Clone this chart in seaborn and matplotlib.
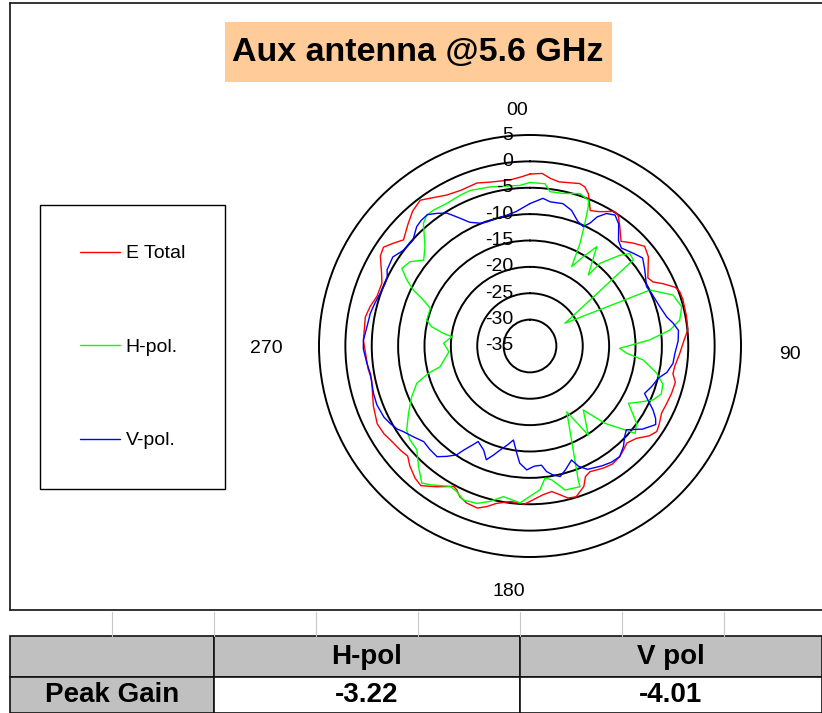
import numpy as np
import pandas as pd
import matplotlib
matplotlib.use("Agg")
import matplotlib.pyplot as plt
import matplotlib.transforms as mtransforms
from matplotlib.lines import Line2D
from matplotlib.patches import Rectangle
import seaborn as sns

# E Total (red), angle in degrees clockwise from top, gain in dBi
red_deg = [0, 4, 7, 10, 17, 19, 21, 24, 27.5, 32, 34, 37, 41, 45, 49, 53, 60, 62.5, 65, 68,
           70, 73, 79, 84, 88, 93, 98, 101, 104, 108.5, 113, 117, 121, 124, 127, 131, 135, 138,
           141, 145, 149, 154.5, 157, 159, 163, 166, 168.5, 171.5, 175, 179, 182, 187, 192, 195,
           198, 202, 205, 207, 208.5, 213.5, 218, 221, 225, 228, 231, 236, 239, 243, 249, 258,
           262, 272, 280, 284, 288, 293, 296, 301, 304, 307, 310, 315, 319, 323, 326, 331, 336,
           342, 346, 353, 357, 360]
red_db = [-2.4, -2.2, -3.0, -3.4, -2.8, -3.1, -4.1, -6.9, -6.3, -4.9, -5.1, -6.7, -8.7, -7.4,
          -6.2, -6.9, -9.2, -8.7, -7.1, -5.3, -4.8, -4.7, -4.8, -4.9, -5.8, -6.6, -7.3, -7.4,
          -6.6, -6.7, -6.9, -7.0, -6.4, -6.0, -6.7, -8.3, -9.0, -8.5, -8.0, -7.7, -8.0, -8.6,
          -8.1, -6.5, -5.1, -5.3, -6.2, -7.1, -6.7, -5.8, -5.0, -5.3, -4.5, -3.5, -2.7, -2.9,
          -3.5, -4.4, -4.7, -3.0, -1.4, -1.8, -2.8, -3.8, -3.5, -3.1, -2.7, -2.5, -3.2, -4.3,
          -4.0, -3.4, -3.3, -3.8, -4.5, -4.5, -3.7, -1.9, -1.5, -2.6, -3.7, -2.3, -1.1, -0.4,
          -1.2, -2.3, -2.7, -2.5, -3.0, -3.3, -2.9, -2.4]

# H-pol. (green)
green_deg = [0, 5.3, 7.4, 12.3, 18.1, 21.8, 22.7, 24.1, 26, 27.7, 30.8, 33.9, 39.4, 40.2, 44.7,
             47.2, 50.2, 57, 65, 70.4, 75.5, 80.2, 83.5, 87.1, 91.5, 94.3, 97, 102, 106, 110,
             113.6, 117, 120.2, 126, 129.7, 131.5, 135.9, 140.2, 146.8, 150.8, 160.2, 160.4,
             166.3, 170.8, 173.5, 176, 183.6, 190, 194.4, 198.7, 203.4, 206.7, 209.6, 215.7,
             218.3, 222.8, 227.5, 231.9, 235.7, 241.1, 246.8, 251.8, 255, 257, 266, 271.8,
             276.8, 278.3, 281.1, 284.1, 290.7, 293.3, 295.6, 298.2, 301.2, 305.1, 308.9,
             313.4, 319, 321.7, 324.6, 329.7, 335.1, 338.9, 345.9, 356.4, 360]
green_db = [-4.0, -4.1, -5.5, -5.4, -4.6, -5.2, -6.4, -9.5, -13.4, -18.0, -15.3, -12.3, -17.6,
            -14.5, -10.8, -9.2, -9.5, -27.1, -9.9, -6.2, -5.3, -6.2, -8.3, -12.3, -18.0, -16.6,
            -13.4, -10.5, -8.8, -8.5, -9.5, -11.6, -13.4, -10.0, -9.1, -11.0, -14.6, -19.2,
            -14.8, -20.7, -8.0, -6.7, -6.9, -9.3, -9.8, -7.7, -5.2, -6.0, -4.6, -3.5, -3.2,
            -4.1, -4.4, -2.6, -1.9, -3.9, -5.9, -6.1, -6.7, -8.7, -10.6, -12.4, -15.1, -17.5,
            -19.6, -18.6, -20.1, -18.4, -16.0, -14.8, -14.8, -13.0, -10.5, -8.5, -6.6, -7.2,
            -9.1, -7.6, -4.2, -3.4, -3.4, -3.7, -3.5, -3.4, -3.9, -4.5, -4.0]

# V-pol. (blue)
blue_deg = [0, 5, 8, 13, 17, 21, 24, 26, 27.5, 30, 33, 36, 40, 43, 48, 52, 56.5, 63, 66.5, 73,
            78, 81, 84, 88, 93, 97, 101, 104, 108.5, 112.5, 115, 117.5, 120, 122, 125, 126.5,
            131, 134, 137, 141, 145, 149, 155, 158, 160, 164, 167, 170, 172.5, 174.5, 178,
            181.5, 185, 187, 190, 193, 196, 198.5, 201, 204, 208.5, 210, 212.5, 214, 217, 220,
            224, 228, 232, 236, 238, 241, 244, 249, 253, 257, 260, 264, 269, 272, 277, 281.5,
            285.5, 289.5, 293.5, 296, 298, 303, 307, 312, 316.5, 319, 322, 325, 328, 331, 334,
            338, 341, 345, 350, 354, 360]
blue_db = [-8.0, -6.9, -7.4, -7.3, -8.1, -9.7, -10.2, -9.1, -7.4, -6.0, -5.4, -6.4, -8.9, -9.6,
           -8.7, -7.9, -8.9, -10.2, -9.9, -9.3, -8.5, -7.5, -6.7, -6.9, -7.5, -7.7, -8.6, -9.9,
           -10.7, -11.5, -10.2, -8.7, -7.5, -6.9, -8.0, -8.5, -10.8, -10.1, -9.0, -8.0, -8.1,
           -8.5, -9.2, -10.4, -12.0, -10.6, -9.6, -10.2, -11.0, -12.3, -12.2, -11.5, -12.7,
           -14.5, -16.9, -15.7, -14.5, -13.2, -11.9, -13.4, -14.4, -13.4, -11.6, -10.1, -8.8,
           -7.6, -7.7, -7.9, -7.0, -6.0, -5.3, -4.7, -4.2, -3.9, -4.0, -4.2, -4.3, -3.9, -3.4,
           -3.4, -3.9, -4.1, -4.5, -4.9, -5.1, -4.9, -4.3, -4.0, -4.9, -5.1, -3.8, -3.5, -3.4,
           -4.3, -5.3, -7.2, -8.9, -9.9, -10.1, -10.0, -9.8, -9.4, -8.0]

trace_names = ["E Total", "H-pol.", "V-pol."]
trace_colors = ["#ff0000", "#00ff00", "#0000ff"]

ring_levels = [-35, -30, -25, -20, -15, -10, -5, 0, 5]
ring_labels = ["-35", "-30", "-25", "-20", "-15", "-10", "-5", "0", "5"]
angle_labels = ["00", "90", "180", "270"]

title_text = "Aux antenna @5.6 GHz"
table_cols = ["H-pol", "V pol"]
table_row = "Peak Gain"
peak_gain = [-3.22, -4.01]

df = pd.concat([
    pd.DataFrame({"theta": np.deg2rad(red_deg), "gain": red_db, "trace": trace_names[0]}),
    pd.DataFrame({"theta": np.deg2rad(green_deg), "gain": green_db, "trace": trace_names[1]}),
    pd.DataFrame({"theta": np.deg2rad(blue_deg), "gain": blue_db, "trace": trace_names[2]}),
], ignore_index=True)

sns.set_style("white")
plt.rcParams["font.family"] = ["Liberation Sans", "DejaVu Sans"]
plt.rcParams["text.color"] = "black"

W, H = 822, 713
fig = plt.figure(figsize=(W / 100, H / 100), dpi=100)


def fx(px):
    return px / W


def fy(py):
    return 1 - py / H


# polar chart: centre (530, 346), outer radius 211 px
ax = fig.add_axes([fx(319), fy(557), 422 / W, 422 / H], projection="polar")
sns.lineplot(data=df, x="theta", y="gain", hue="trace", hue_order=trace_names,
             palette=trace_colors, sort=False, estimator=None, linewidth=1.0, ax=ax)
ax.set_theta_zero_location("N")
ax.set_theta_direction(-1)
ax.set_ylim(ring_levels[0], ring_levels[-1])
ax.set_yticks(ring_levels[1:-1])
ax.set_yticklabels([])
ax.set_xticks([])
ax.yaxis.grid(True, color="black", linewidth=1.4)
ax.xaxis.grid(False)
ax.spines["polar"].set_color("black")
ax.spines["polar"].set_linewidth(1.4)
ax.set_xlabel("")
ax.set_ylabel("")
ax.set_facecolor("white")

lab_tr = mtransforms.offset_copy(ax.transData, fig=fig, x=-17, y=0, units="dots")
for lv, lb in zip(ring_levels, ring_labels):
    ax.text(0, lv, lb, transform=lab_tr, ha="right", va="center", fontsize=14, zorder=5)

angle_pos = [(0.469, 1.059), (1.116, 0.479), (0.450, -0.0806), (-0.1256, 0.495)]
for (x, y), lb in zip(angle_pos, angle_labels):
    ax.text(x, y, lb, transform=ax.transAxes, ha="center", va="center", fontsize=14)

handles, labels = ax.get_legend_handles_labels()
if ax.get_legend() is not None:
    ax.get_legend().remove()
leg = fig.legend(handles, labels, loc="upper left", bbox_to_anchor=(fx(40), fy(205)),
                 borderaxespad=0, frameon=True, fancybox=False, framealpha=1,
                 edgecolor="black", fontsize=14, handlelength=2.06, handletextpad=0.3,
                 labelspacing=3.9, borderpad=2.05)
leg.get_frame().set_linewidth(1.0)
for t in leg.get_texts():
    t.set_color("black")

# title box
fig.add_artist(Rectangle((fx(225), fy(82)), fx(612) - fx(225), fy(22) - fy(82),
                         transform=fig.transFigure, facecolor="#ffcc99", edgecolor="none"))
fig.text(fx(418), fy(52), title_text, ha="center", va="center", fontsize=24.5,
         fontweight="bold")

# chart frame
for (x0, y0, x1, y1) in [(10, 3, 10, 610), (10, 3, 822, 3), (10, 610, 822, 610)]:
    fig.add_artist(Line2D([fx(x0), fx(x1)], [fy(y0), fy(y1)], color="#111111",
                          linewidth=1.2, transform=fig.transFigure))

# sheet grid strip
for k in range(1, 8):
    xg = 10 + 102 * k
    fig.add_artist(Line2D([fx(xg), fx(xg)], [fy(612), fy(636)], color="#c8c8c8",
                          linewidth=0.8, transform=fig.transFigure))

# peak gain table
gray = "#c0c0c0"
cells = [(10, 636, 214, 677, gray), (214, 636, 520, 677, gray), (520, 636, 822, 677, gray),
         (10, 677, 214, 713, gray), (214, 677, 520, 713, "white"), (520, 677, 822, 713, "white")]
for x0, y0, x1, y1, c in cells:
    fig.add_artist(Rectangle((fx(x0), fy(y1)), fx(x1) - fx(x0), fy(y0) - fy(y1),
                             transform=fig.transFigure, facecolor=c, edgecolor="#111111",
                             linewidth=1.2))
for i, col in enumerate(table_cols):
    xc = 367 + 304 * i
    fig.text(fx(xc), fy(657), col, ha="center", va="center", fontsize=20, fontweight="bold")
    fig.text(fx(xc), fy(695), f"{peak_gain[i]:.2f}", ha="center", va="center", fontsize=20,
             fontweight="bold")
fig.text(fx(112), fy(695), table_row, ha="center", va="center", fontsize=20, fontweight="bold")

fig.savefig("out.png", dpi=100)
